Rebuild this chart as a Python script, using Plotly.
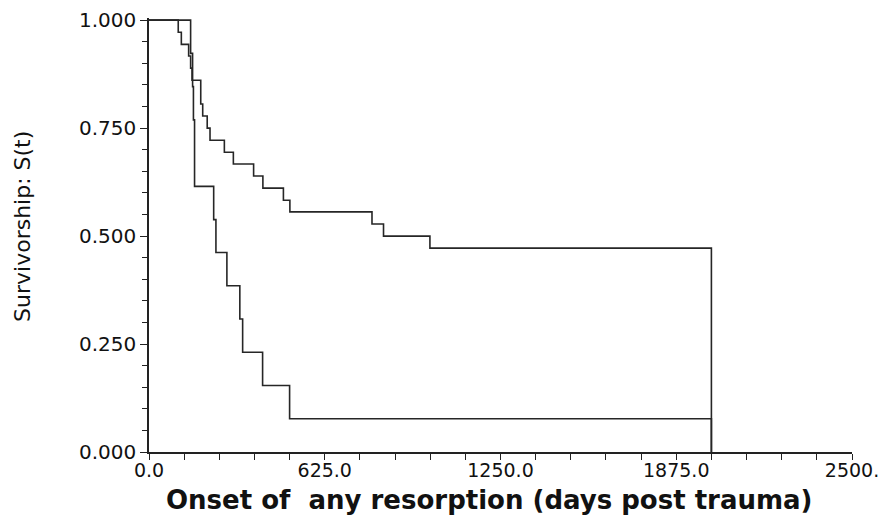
import plotly.graph_objects as go

# Group A (upper curve): step times (days) and survivorship from each step on
time_a = [0, 104, 115, 141, 148, 153, 184, 191, 207, 217, 268, 300, 372, 405, 478, 501, 793, 834, 999, 2000]
surv_a = [1.000, 0.972, 0.944, 0.917, 0.889, 0.861, 0.806, 0.778, 0.750, 0.722, 0.694, 0.667,
          0.639, 0.611, 0.583, 0.556, 0.528, 0.500, 0.472, 0.000]

# Group B (lower curve)
time_b = [0, 148, 155, 158, 162, 230, 238, 277, 323, 333, 404, 500, 2000]
surv_b = [1.000, 0.923, 0.846, 0.769, 0.615, 0.538, 0.462, 0.385, 0.308, 0.231, 0.154, 0.077, 0.000]

x_tickvals = [0, 625, 1250, 1875, 2500]
x_ticktext = ["0.0", "625.0", "1250.0", "1875.0", "2500."]
y_tickvals = [0, 0.25, 0.5, 0.75, 1.0]
y_ticktext = ["0.000", "0.250", "0.500", "0.750", "1.000"]

x_title = "Onset of\u00a0\u00a0any resorption (days post trauma)"
y_title = "Survivorship: S(t)"

line_color = "#262626"
font_family = "DejaVu Sans, Liberation Sans, sans-serif"

fig = go.Figure()
fig.add_trace(go.Scatter(x=time_a, y=surv_a, mode="lines", line=dict(shape="hv", color=line_color, width=1.6),
                         showlegend=False, hoverinfo="skip"))
fig.add_trace(go.Scatter(x=time_b, y=surv_b, mode="lines", line=dict(shape="hv", color=line_color, width=1.6),
                         showlegend=False, hoverinfo="skip"))

fig.update_layout(
    width=879, height=516,
    margin=dict(l=148.5, r=27, t=17.8, b=64, autoexpand=False),
    paper_bgcolor="white", plot_bgcolor="white",
    font=dict(family=font_family, size=19, color="#111"),
    xaxis=dict(range=[0, 2500], tickvals=x_tickvals, ticktext=x_ticktext, showgrid=False, zeroline=False,
               automargin=False,
               showline=True, linecolor="#222", linewidth=1.5, ticks="outside", ticklen=6, tickwidth=1.2,
               tickcolor="#222", tickfont=dict(size=19), ticklabeloverflow="allow", ticklabelstandoff=-6,
               minor=dict(dtick=125, tick0=0, ticks="outside", ticklen=6, tickwidth=1.2, tickcolor="#222")),
    yaxis=dict(range=[0, 1.005], tickvals=y_tickvals, ticktext=y_ticktext, showgrid=False, zeroline=False,
               automargin=False,
               showline=True, linecolor="#222", linewidth=1.5, ticks="outside", ticklen=7, tickwidth=1.2,
               tickcolor="#222", tickfont=dict(size=20),
               minor=dict(dtick=0.05, tick0=0, ticks="outside", ticklen=5, tickwidth=1.2, tickcolor="#222")),
    annotations=[
        dict(text="<b>" + x_title + "</b>", xref="paper", yref="paper", x=0.485, y=-0.1105,
             xanchor="center", yanchor="middle", showarrow=False, font=dict(size=26, color="#111")),
        dict(text=y_title, xref="paper", yref="paper", x=-0.1798, y=0.52, textangle=-90,
             xanchor="center", yanchor="middle", showarrow=False, font=dict(size=22, color="#111")),
    ],
)

fig.write_html("out.html")
